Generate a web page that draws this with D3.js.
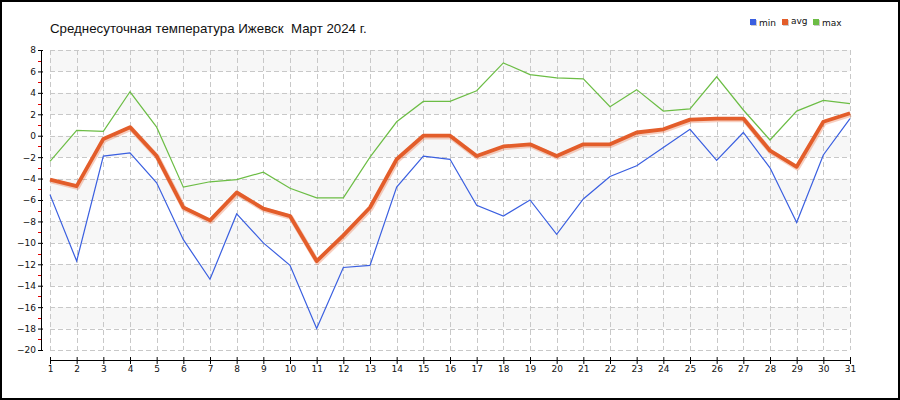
<!DOCTYPE html>
<html>
<head>
<meta charset="utf-8">
<script src="https://cdn.jsdelivr.net/npm/d3@7"></script>
<style>
html,body{margin:0;padding:0;background:#fff;}
svg{display:block;}
</style>
</head>
<body>
<svg id="chart" width="900" height="400"></svg>
<script>
const title = "Среднесуточная температура Ижевск  Март 2024 г.";
const days = d3.range(1, 32);
const minTemp = [-5.5,-11.7,-1.9,-1.6,-4.4,-9.7,-13.4,-7.3,-10.0,-12.1,-18.0,-12.3,-12.1,-4.8,-1.9,-2.2,-6.5,-7.5,-6.0,-9.2,-5.9,-3.8,-2.8,-1.1,0.6,-2.3,0.3,-3.0,-8.1,-1.8,1.6];
const avgTemp = [-4.1,-4.7,-0.3,0.8,-1.9,-6.7,-7.9,-5.3,-6.8,-7.5,-11.7,-9.3,-6.7,-2.2,0.0,0.0,-1.9,-1.0,-0.8,-1.9,-0.8,-0.8,0.3,0.6,1.5,1.6,1.6,-1.4,-2.9,1.3,2.1];
const maxTemp = [-2.4,0.5,0.4,4.1,0.8,-4.8,-4.3,-4.1,-3.4,-4.9,-5.8,-5.8,-2.0,1.3,3.2,3.2,4.2,6.8,5.7,5.4,5.3,2.7,4.3,2.3,2.5,5.5,2.4,-0.4,2.3,3.3,3.0];
const yTicks = d3.range(-20, 9, 2);
const yMinorTicks = d3.range(-19, 8, 2);
const seriesNames = ["min","avg","max"];
const seriesColors = ["#3a5fe0","#e35d2a","#6cbd45"];

const svg = d3.select("#chart");
const x = d3.scaleLinear().domain([1, 31]).range([50, 850]);
const y = d3.scaleLinear().domain([-20, 8]).range([350, 50]);

// border
svg.append("rect").attr("x",1).attr("y",1).attr("width",898).attr("height",398)
  .attr("fill","#fff").attr("stroke","#000").attr("stroke-width",2);

// bands
const bandStarts = d3.range(8, -20, -4);
svg.append("g").selectAll("rect").data(bandStarts).join("rect")
  .attr("x", x(1)).attr("width", x(31)-x(1))
  .attr("y", d => y(d)).attr("height", d => y(d-2)-y(d))
  .attr("fill", "#f7f7f7");

// grid
const grid = svg.append("g").attr("stroke","#c8c8c8").attr("stroke-dasharray","5,3").attr("stroke-width",1);
grid.selectAll("line.h").data(yTicks).join("line").attr("class","h")
  .attr("x1", x(1)).attr("x2", x(31))
  .attr("y1", d => Math.round(y(d))+0.5).attr("y2", d => Math.round(y(d))+0.5);
grid.selectAll("line.v").data(days).join("line").attr("class","v")
  .attr("x1", d => Math.round(x(d))+0.5).attr("x2", d => Math.round(x(d))+0.5)
  .attr("y1", y(8)).attr("y2", y(-20));

// left axis
const yAxis = d3.axisLeft(y).tickValues(yTicks).tickSize(5).tickPadding(3).tickFormat(d3.format("d"));
const gy = svg.append("g").attr("transform","translate(41,0)").call(yAxis);
gy.select(".domain").attr("d", `M0.5,${y(8)}V${y(-20)}`).attr("stroke","#000");
gy.selectAll(".tick line").attr("x1", 2).attr("x2",-3).attr("stroke","#000");
gy.selectAll(".tick text").attr("font-family","'DejaVu Sans', sans-serif").attr("font-size",9).attr("fill","#111").attr("x",-5);
gy.append("g").selectAll("line").data(yMinorTicks).join("line")
  .attr("x1",-3).attr("x2",0)
  .attr("y1", d => Math.round(y(d))+0.5).attr("y2", d => Math.round(y(d))+0.5)
  .attr("stroke","#e00000");

// bottom axis
const xAxis = d3.axisBottom(x).tickValues(days).tickSize(4).tickPadding(2).tickFormat(d3.format("d"));
const gx = svg.append("g").attr("transform","translate(0,360)").call(xAxis);
gx.select(".domain").attr("d", `M${x(1)},0.5H${x(31)}`).attr("stroke","#000");
gx.selectAll(".tick line").attr("y1",-3).attr("y2",4).attr("stroke","#000");
gx.selectAll(".tick text").attr("font-family","'DejaVu Sans', sans-serif").attr("font-size",9).attr("fill","#111");

// lines
const line = d3.line().x((d,i) => x(days[i])).y(d => y(d));
svg.append("path").datum(avgTemp).attr("d", line).attr("fill","none")
  .attr("stroke","#e35d2a").attr("stroke-opacity",0.3).attr("stroke-width",5)
  .attr("transform","translate(0.8,1.2)").attr("stroke-linejoin","round");
svg.append("path").datum(maxTemp).attr("d", line).attr("fill","none")
  .attr("stroke","#6cbd45").attr("stroke-width",1.2);
svg.append("path").datum(minTemp).attr("d", line).attr("fill","none")
  .attr("stroke","#3a5fe0").attr("stroke-width",1.2);
svg.append("path").datum(avgTemp).attr("d", line).attr("fill","none")
  .attr("stroke","#e35d2a").attr("stroke-width",3.8).attr("stroke-linejoin","round");

// title
svg.append("text").attr("x",50).attr("y",33).text(title)
  .style("white-space","pre").attr("xml:space","preserve")
  .attr("font-family","'Liberation Sans', Arial, sans-serif").attr("font-size",13.3).attr("fill","#111");

// legend
const legX = [750, 782, 813];
const leg = svg.append("g").selectAll("g").data(seriesNames).join("g")
  .attr("transform",(d,i)=>`translate(${legX[i]},19)`);
leg.append("rect").attr("x",1).attr("y",1).attr("width",6).attr("height",6).attr("fill","#ccc");
leg.append("rect").attr("width",6).attr("height",6).attr("fill",(d,i)=>seriesColors[i]);
leg.append("text").attr("x",9).attr("y",(d,i)=> i===1 ? 5 : 7).text(d=>d)
  .attr("font-family","'DejaVu Sans', sans-serif").attr("font-size",9).attr("fill","#111");
</script>
</body>
</html>
